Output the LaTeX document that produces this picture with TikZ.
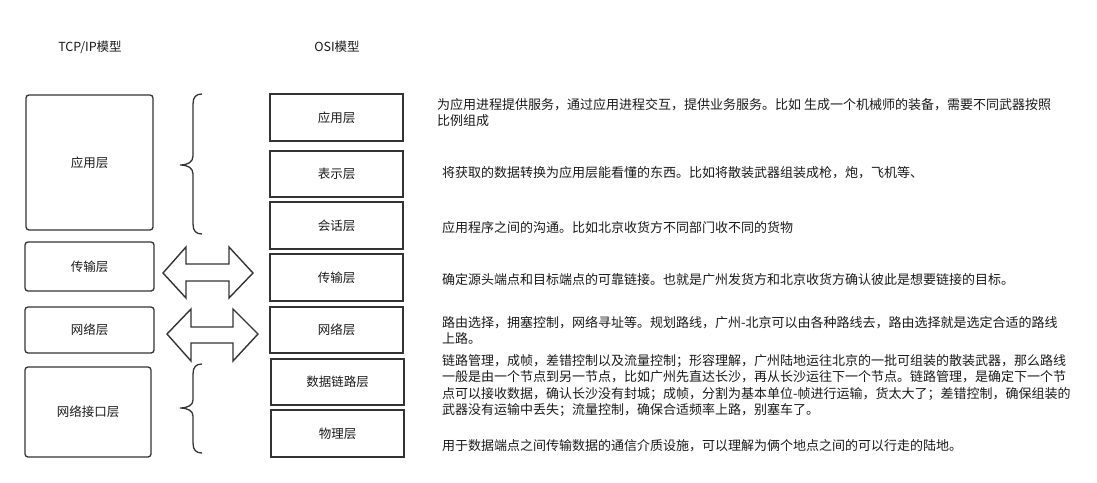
\documentclass[tikz,border=0pt]{standalone}
\usepackage{fontspec}
\newfontfamily\cjk{Noto Sans CJK SC}
\definecolor{ink}{HTML}{333333}
\definecolor{txt}{HTML}{1A1A1A}
\begin{document}
\begin{tikzpicture}[x=1pt,y=-1pt,
  tcpbox/.style={draw=ink, line width=1.3pt, rounded corners=3pt, inner sep=0pt, text=txt, font=\cjk\fontsize{12.5}{15}\selectfont},
  osibox/.style={draw=ink, line width=2pt, inner sep=0pt, text=txt, font=\cjk\fontsize{12.5}{15}\selectfont},
  title/.style={inner sep=0pt, text=txt, font=\cjk\fontsize{12.5}{15}\selectfont},
  desc/.style={anchor=west, align=left, inner sep=0pt, text=txt, font=\cjk\fontsize{13}{16.5}\selectfont},
  brace/.style={draw=ink, line width=1.3pt},
  blockarrow/.style={draw=ink, line width=1.4pt, fill=white, line join=miter}]
\useasboundingbox (0,0) rectangle (1097,482);

% titles
\node[title] (tt) at (90,47) {TCP/IP模型};
\node[title] (ot) at (337,47) {OSI模型};

% TCP/IP boxes
\node[tcpbox, minimum width=127pt, minimum height=135pt] (t1) at (89.5,162.5) {应用层};
\node[tcpbox, minimum width=129pt, minimum height=49pt] (t2) at (89.5,266.5) {传输层};
\node[tcpbox, minimum width=129pt, minimum height=46pt] (t3) at (89.5,330) {网络层};
\node[tcpbox, minimum width=126pt, minimum height=90pt] (t4) at (88,412) {网络接口层};

% OSI boxes
\node[osibox, minimum width=133pt, minimum height=47pt] (o1) at (336.5,117.5) {应用层};
\node[osibox, minimum width=133pt, minimum height=46pt] (o2) at (336.5,174) {表示层};
\node[osibox, minimum width=133pt, minimum height=47pt] (o3) at (336.5,225.5) {会话层};
\node[osibox, minimum width=133pt, minimum height=47pt] (o4) at (336.5,277.5) {传输层};
\node[osibox, minimum width=133pt, minimum height=46pt] (o5) at (336.5,330) {网络层};
\node[osibox, minimum width=133pt, minimum height=46pt] (o6) at (337.5,382) {数据链路层};
\node[osibox, minimum width=133pt, minimum height=47pt] (o7) at (337.5,433.5) {物理层};

% braces
\draw[brace] (202,94) .. controls (196,94) and (193,97) .. (193,104) -- (193,156)
  .. controls (193,162) and (188,165) .. (180,165)
  .. controls (188,165) and (193,168) .. (193,174) -- (193,224)
  .. controls (193,231) and (196,234) .. (202,234);
\draw[brace] (202,364) .. controls (196,364) and (193,367) .. (193,374) -- (193,400)
  .. controls (193,405) and (188,408) .. (180,408)
  .. controls (188,408) and (193,411) .. (193,416) -- (193,443)
  .. controls (193,450) and (196,453) .. (202,453);

% block double arrows
\draw[blockarrow] (163,273) -- (186,247) -- (186,264) -- (229,264) -- (229,247) -- (253,273)
  -- (229,298) -- (229,281) -- (186,281) -- (186,298) -- cycle;
\draw[blockarrow] (167,334) -- (191,309) -- (191,327) -- (233,327) -- (233,309) -- (258,334)
  -- (233,361) -- (233,343) -- (191,343) -- (191,361) -- cycle;

% descriptions
\node[desc] (d1) at (437,112.5) {为应用进程提供服务，通过应用进程交互，提供业务服务。比如 生成一个机械师的装备，需要不同武器按照\\比例组成};
\node[desc] (d2) at (442,173) {将获取的数据转换为应用层能看懂的东西。比如将散装武器组装成枪，炮，飞机等、};
\node[desc] (d3) at (442,228) {应用程序之间的沟通。比如北京收货方不同部门收不同的货物};
\node[desc] (d4) at (442,280) {确定源头端点和目标端点的可靠链接。也就是广州发货方和北京收货方确认彼此是想要链接的目标。};
\node[desc] (d5) at (442,330.5) {路由选择，拥塞控制，网络寻址等。规划路线，广州-北京可以由各种路线去，路由选择就是选定合适的路线\\上路。};
\node[desc] (d6) at (442,385.5) {链路管理，成帧，差错控制以及流量控制；形容理解，广州陆地运往北京的一批可组装的散装武器，那么路线\\一般是由一个节点到另一节点，比如广州先直达长沙，再从长沙运往下一个节点。链路管理，是确定下一个节\\点可以接收数据，确认长沙没有封城；成帧，分割为基本单位-帧进行运输，货太大了；差错控制，确保组装的\\武器没有运输中丢失；流量控制，确保合适频率上路，别塞车了。};
\node[desc] (d7) at (442,446) {用于数据端点之间传输数据的通信介质设施，可以理解为俩个地点之间的可以行走的陆地。};
\end{tikzpicture}
\end{document}
